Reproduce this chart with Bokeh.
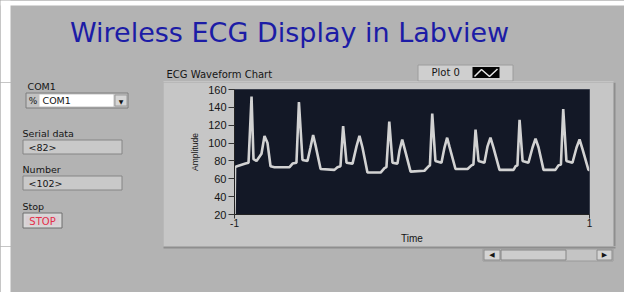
from bokeh.plotting import figure
from bokeh.layouts import column, row
from bokeh.models import Range1d, FixedTicker
from bokeh.core.properties import value
from bokeh.embed import file_html
from bokeh.resources import INLINE

# ---- data ----
time = [-1.000, -0.997, -0.986, -0.938, -0.921, -0.904, -0.893, -0.876, -0.848, -0.831,
        -0.814, -0.797, -0.775, -0.690, -0.673, -0.651, -0.637, -0.617, -0.589, -0.572,
        -0.557, -0.544, -0.515, -0.437, -0.420, -0.403, -0.388, -0.369, -0.335, -0.313,
        -0.296, -0.279, -0.251, -0.177, -0.155, -0.144, -0.128, -0.110, -0.082, -0.070,
        -0.055, -0.042, -0.008, 0.070, 0.093, 0.101, 0.114, 0.132, 0.166, 0.183,
        0.198, 0.211, 0.245, 0.313, 0.335, 0.346, 0.358, 0.375, 0.408, 0.425,
        0.442, 0.459, 0.493, 0.572, 0.583, 0.594, 0.606, 0.623, 0.656, 0.679,
        0.696, 0.713, 0.741, 0.808, 0.825, 0.839, 0.852, 0.870, 0.904, 0.927,
        0.944, 0.961, 0.994, 1.000]
amplitude = [18, 73, 74, 77, 78, 152, 82, 80, 88, 108,
             100, 74, 73, 73, 77, 78, 146, 81, 80, 95,
             109, 98, 71, 70, 73, 74, 119, 78, 77, 96,
             108, 95, 67, 67, 72, 73, 124, 78, 77, 92,
             104, 94, 68, 69, 74, 75, 133, 80, 78, 95,
             106, 96, 71, 71, 75, 76, 115, 80, 78, 96,
             106, 95, 70, 70, 74, 75, 126, 80, 78, 95,
             105, 95, 70, 70, 75, 76, 138, 80, 78, 95,
             104, 93, 70, 70]
y_ticks = [20, 40, 60, 80, 100, 120, 140, 160]
x_ticks = [-1, 1]
x_tick_labels = ["-1", "1"]

title_text = "Wireless ECG Display in Labview"
chart_title = "ECG Waveform Chart"
legend_text = "Plot 0"
serial_value = "<82>"
number_value = "<102>"
com_port = "COM1"

GRAY = "#b3b3b3"
PANEL = "#c6c6c6"
DARK = "#131826"
FONT = "DejaVu Sans"
TXT = "#151515"


def no_align(f):
    try:
        f.frame_align = False
    except Exception:
        pass


def decor(x0, x1, y0, y1, bg=GRAY, bd=GRAY):
    f = figure(width=x1 - x0, height=y1 - y0,
               x_range=Range1d(x0, x1), y_range=Range1d(y1, y0),
               output_backend="svg", toolbar_location=None,
               x_axis_location=None, y_axis_location=None,
               min_border=0, outline_line_color=None,
               background_fill_color=bg, border_fill_color=bd)
    f.grid.visible = False
    no_align(f)
    return f


def box(f, l, r, t, b, fill, line=None):
    f.quad(left=[l], right=[r], top=[t], bottom=[b], fill_color=fill,
           line_color=line, line_width=1)


def txt(f, x, y, s, size="9.5px", color=TXT, align="left", font=FONT, style="normal"):
    f.text(x=[x], y=[y], text=[s], text_font=value(font), text_font_size=value(size),
           text_color=color, text_align=align, text_baseline="middle",
           text_font_style=style)


# ---------- top strip (page y 0..82) ----------
T = decor(0, 624, 0, 82)
box(T, 0, 624, 0, 5, "#ffffff")
box(T, 0, 10, 0, 82, "#ffffff")
txt(T, 289, 32, title_text, size="27px", color="#1c1ca6", align="center")
txt(T, 166, 74, chart_title, size="10px")
box(T, 417.5, 512.5, 64.5, 80.5, "#cfcfcf", line="#9c9c9c")
txt(T, 431, 72, legend_text, size="10px")
box(T, 472, 499, 66.5, 77.5, "#050505")
T.line(x=[474, 481, 489, 497], y=[76, 69, 76, 68.5], line_color="#e8e8e8", line_width=1.5)
box(T, 163, 613, 81, 82, "#d6d6d6")

# ---------- left controls (page x 0..163, y 82..246) ----------
L = decor(0, 163, 82, 246)
box(L, 0, 10, 82, 246, "#ffffff")
txt(L, 27, 85.5, com_port, size="9.5px")
box(L, 25.5, 127.5, 92.5, 107.5, "#c2c2c2", line="#7c7c7c")
box(L, 39, 113, 94, 106, "#ffffff")
txt(L, 32.5, 100, "%", size="9px", align="center")
txt(L, 42, 100, com_port, size="9.5px")
box(L, 114.5, 126.5, 94.5, 105.5, "#d6d6d6", line="#9a9a9a")
txt(L, 120.5, 100.5, "\u25bc", size="6px", align="center")

txt(L, 22, 133, "Serial data", size="9.5px")
box(L, 22.5, 121.5, 139.5, 153.5, "#c9c9c9", line="#858585")
txt(L, 28, 147, serial_value, size="9.5px")

txt(L, 22, 169, "Number", size="9.5px")
box(L, 22.5, 121.5, 175.5, 189.5, "#c9c9c9", line="#858585")
txt(L, 28, 183, number_value, size="9.5px")

txt(L, 22, 206, "Stop", size="9.5px")
box(L, 22.5, 61.5, 212.5, 227.5, "#d8d8d8", line="#6f6f6f")
box(L, 25, 59, 215, 225, "#d9cfd3")
txt(L, 42, 220.5, "STOP", size="10px", color="#e3304a", align="center")

# ---------- chart (page x 163..613, y 82..246) ----------
FL, FR, FT, FB = 234, 589, 89, 217
C = figure(width=450, height=164, output_backend="svg", toolbar_location=None,
           x_range=Range1d(-1, 1), y_range=Range1d(20, 160),
           min_border_left=FL - 163, min_border_right=613 - FR,
           min_border_top=FT - 82, min_border_bottom=246 - FB,
           border_fill_color=PANEL, background_fill_color=DARK,
           outline_line_color="#3a3f4c")
C.grid.visible = False
no_align(C)
C.line(time, amplitude, line_color="#d2d2d2", line_width=2.6)

ya = C.yaxis[0]
ya.ticker = FixedTicker(ticks=y_ticks)
ya.axis_label = "Amplitude"
ya.axis_label_text_font = "Liberation Sans"
ya.axis_label_text_font_size = "8.5px"
ya.axis_label_text_font_style = "normal"
ya.axis_label_text_color = TXT
ya.axis_label_standoff = 5
ya.major_label_text_font = "Liberation Sans"
ya.major_label_text_font_size = "11px"
ya.major_label_text_color = TXT
ya.major_label_standoff = 2
ya.major_tick_out = 6
ya.major_tick_in = 0
ya.minor_tick_out = 0
ya.minor_tick_in = 0
ya.axis_line_color = "#222222"
ya.major_tick_line_color = "#333333"

xa = C.xaxis[0]
xa.ticker = FixedTicker(ticks=x_ticks)
xa.major_label_overrides = {t: s for t, s in zip(x_ticks, x_tick_labels)}
xa.axis_label = "Time"
xa.axis_label_text_font = "Liberation Sans"
xa.axis_label_text_font_size = "10px"
xa.axis_label_text_font_style = "normal"
xa.axis_label_text_color = TXT
xa.axis_label_standoff = 3
xa.major_label_text_font = "Liberation Sans"
xa.major_label_text_font_size = "10px"
xa.major_label_text_color = TXT
xa.major_label_standoff = 0
xa.major_tick_out = 4
xa.major_tick_in = 0
xa.minor_tick_out = 0
xa.minor_tick_in = 0
xa.axis_line_color = "#222222"
xa.major_tick_line_color = "#333333"

# ---------- right strip (page x 613..624, y 82..246) ----------
R = decor(613, 624, 82, 246)
box(R, 613, 615, 82, 246, "#8e8e8e")

# ---------- bottom strip (page y 246..292) ----------
B = decor(0, 624, 246, 292)
box(B, 0, 10, 246, 292, "#ffffff")
box(B, 163, 615, 246, 248, "#8e8e8e")
box(B, 482.5, 612.5, 248.5, 260.5, "#c4c4c4", line="#9a9a9a")
box(B, 483.5, 499.5, 249.5, 259.5, "#d4d4d4", line="#8a8a8a")
txt(B, 491.5, 254.5, "\u25c0", size="7px", align="center")
box(B, 500.5, 565.5, 249.5, 259.5, "#cdcdcd", line="#858585")
box(B, 596.5, 611.5, 249.5, 259.5, "#d4d4d4", line="#8a8a8a")
txt(B, 604, 254.5, "\u25b6", size="7px", align="center")

mid = row(L, C, R, spacing=0)
layout = column(T, mid, B, spacing=0)
try:
    mid.styles = {"background-color": GRAY}
    layout.styles = {"background-color": GRAY}
except Exception:
    pass
open("out.html", "w").write(file_html(layout, INLINE))
